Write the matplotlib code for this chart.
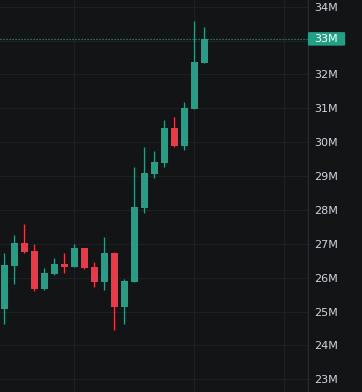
import numpy as np
import matplotlib.pyplot as plt
from matplotlib.patches import FancyBboxPatch

# candle data, values in millions
opens = [25.07, 26.35, 27.02, 26.79, 25.66, 26.11, 26.40, 26.32, 26.88, 26.31, 25.88,
         26.72, 25.14, 25.88, 28.07, 29.06, 29.39, 30.42, 29.89, 30.98, 32.35]
highs = [26.72, 27.26, 27.58, 26.99, 26.29, 26.57, 26.72, 26.99, 26.89, 26.46, 27.19,
         26.75, 25.95, 29.28, 29.87, 29.74, 30.65, 30.75, 31.19, 33.58, 33.41]
lows = [24.62, 25.82, 26.74, 25.62, 25.64, 26.07, 26.15, 26.32, 26.27, 25.71, 25.65,
        24.45, 24.63, 25.88, 27.90, 28.95, 29.28, 29.87, 29.78, 30.98, 32.35]
closes = [26.37, 27.02, 26.76, 25.66, 26.13, 26.40, 26.32, 26.88, 26.29, 25.88, 26.72,
          25.14, 25.90, 28.09, 29.09, 29.41, 30.42, 29.89, 31.01, 32.37, 33.05]
price_ticks = list(range(23, 35))
last_price = closes[-1]

bg = '#131416'
grid_c = '#1d1f22'
up_c = '#22a085'
down_c = '#f23645'
txt_c = '#d1d4dc'

fig = plt.figure(figsize=(3.62, 3.92), dpi=100, facecolor=bg)
ax = fig.add_axes([0, 0, 308 / 362, 1])
ax.set_facecolor(bg)

x = np.arange(len(opens))
o = np.array(opens)
c = np.array(closes)
colors = [up_c if cc >= oo else down_c for oo, cc in zip(o, c)]

ax.vlines(x, lows, highs, colors=colors, linewidth=0.9, zorder=3)
ax.bar(x, np.maximum(np.abs(c - o), 0.03), bottom=np.minimum(o, c), width=0.68,
       color=colors, zorder=4)

# grid
for v in price_ticks:
    ax.axhline(v, color=grid_c, linewidth=0.8, zorder=1)
for gx in [7, 19, 28]:
    ax.axvline(gx, color=grid_c, linewidth=0.8, zorder=1)

# last price line
ax.axhline(last_price, color=up_c, linestyle=(0, (0.9, 1.5)), linewidth=0.9, zorder=2)

ax.set_xlim(-0.43, 30.37)
ax.set_ylim(22.624, 34.198)

ax.yaxis.tick_right()
shown = [t for t in price_ticks if t != 33]
ax.set_yticks(shown)
ax.set_yticklabels([f'{t}M' for t in shown])
ax.tick_params(axis='y', length=0, pad=4.5, labelsize=8, labelcolor=txt_c)
ax.set_xticks([])
for side in ['top', 'bottom', 'left']:
    ax.spines[side].set_visible(False)
ax.spines['right'].set_color('#2a2c30')
ax.spines['right'].set_linewidth(0.8)

# last price label box
trans = ax.get_yaxis_transform()
box = FancyBboxPatch((1.0, last_price - 0.2), 37 / 308, 0.4, transform=trans,
                     boxstyle='round,pad=0,rounding_size=0.01', facecolor=up_c,
                     edgecolor='none', clip_on=False, zorder=5)
ax.add_patch(box)
ax.text(1.0 + 6.3 / 308, last_price, '33M', transform=trans, color='white',
        fontsize=8, va='center', ha='left', zorder=6, clip_on=False)

fig.savefig('out.png', dpi=100, facecolor=bg)
